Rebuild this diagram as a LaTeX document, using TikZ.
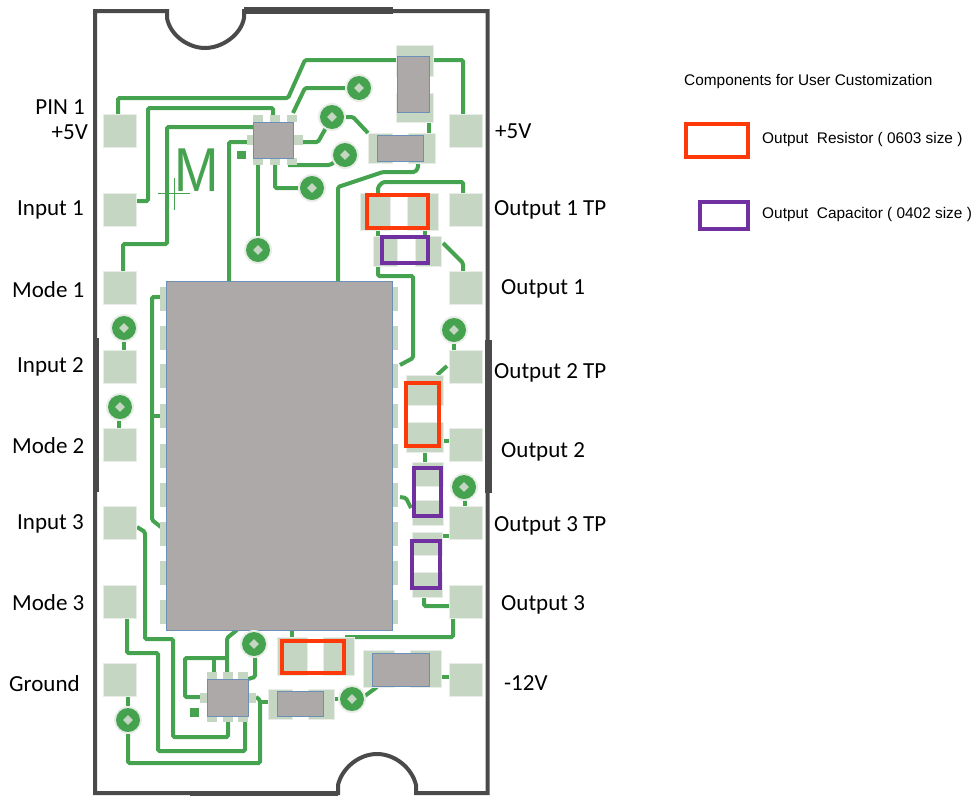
\documentclass[tikz,border=0pt]{standalone}
\usepackage{fontspec}
\setmainfont{Carlito}
\newfontfamily\legendfont{Liberation Sans}
\usetikzlibrary{shapes.geometric}
\definecolor{tracegreen}{HTML}{45A24E}
\definecolor{padgreen}{HTML}{C5D6C3}
\definecolor{padedge}{HTML}{E9EDE8}
\definecolor{chipgray}{HTML}{ADA9A8}
\definecolor{chipedge}{HTML}{6B8FB5}
\definecolor{boardgray}{HTML}{4A4A4A}
\definecolor{markred}{HTML}{FF3A0A}
\definecolor{markpurple}{HTML}{7030A0}
\tikzset{
  pcb_pad/.style = {rectangle, fill=padgreen, draw=padedge, line width=1pt,
    minimum width=33pt, minimum height=33pt, inner sep=0pt},
  pcb_land/.style = {fill=padgreen, draw=padedge, line width=.6pt},
  pcb_chip/.style = {fill=chipgray, draw=chipedge, line width=.7pt},
  pcb_trace/.style = {draw=tracegreen, line width=4pt, rounded corners=1.5pt},
  pcb_board/.style = {draw=boardgray, line width=4pt, line cap=butt},
  pcb_thick/.style = {draw=boardgray, line width=6.5pt},
  via_halo/.style = {circle, fill=padedge, minimum size=28pt, inner sep=0pt},
  via_ring/.style = {circle, fill=tracegreen, minimum size=24pt, inner sep=0pt},
  via_hole/.style = {diamond, fill=padgreen, minimum size=10pt, inner sep=0pt},
  mark_red/.style = {draw=markred, line width=3.4pt},
  mark_purple/.style = {draw=markpurple, line width=3.2pt},
  pin_label/.style = {font=\fontsize{23}{25}\selectfont, inner sep=0pt},
  legend_label/.style = {font=\legendfont\fontsize{15.4}{17}\selectfont, inner sep=0pt, anchor=west}
}
\begin{document}
\begin{tikzpicture}[x=1pt,y=-1pt]
\useasboundingbox (0,0) rectangle (975,796);
% traces, top half
\draw [pcb_trace] (118,115) -- (118,98) -- (288,98) -- (305,60) -- (397,60);
\draw [pcb_trace] (429,60) -- (463,60) -- (463,115);
\draw [pcb_trace] (137,201) -- (148,201) -- (148,108) -- (273,108) -- (273,117);
\draw [pcb_trace] (123,272) -- (123,244) -- (167,244) -- (167,127) -- (253,127);
\draw [pcb_trace] (229,281) -- (229,142) -- (250,142);
\draw [pcb_trace] (258,165) -- (258,250);
\draw [pcb_trace] (275,165) -- (275,188) -- (312,188);
\draw [pcb_trace] (288,165) -- (330,165) -- (345,155);
\draw [pcb_trace] (303,142) -- (318,142) -- (332,117);
\draw [pcb_trace] (293,113) -- (305,88) -- (359,88);
\draw [pcb_trace] (332,117) -- (353,117) -- (368,133);
\draw [pcb_trace] (429,122) -- (429,133);
\draw [pcb_trace] (338,281) -- (338,187) -- (383,172) -- (415,172) -- (418,168) -- (418,163);
\draw [pcb_trace] (378,193) -- (378,187) -- (383,182) -- (463,182) -- (463,194);
\draw [pcb_trace] (378,230) -- (378,237);
\draw [pcb_trace] (425,230) -- (425,237);
\draw [pcb_trace] (443,243) -- (463,263) -- (463,272);
\draw [pcb_trace] (378,265) -- (378,276) -- (413,276) -- (413,358) -- (400,365);
\draw [pcb_trace] (437,375) -- (447,366);
\draw [pcb_trace] (443,441) -- (450,441);
\draw [pcb_trace] (425,452) -- (425,462);
\draw [pcb_trace] (400,497) -- (406,498) -- (411,508);
\draw [pcb_trace] (443,536) -- (450,536);
\draw [pcb_trace] (424,597) -- (424,606) -- (449,606);
\draw [pcb_trace] (454,342) -- (454,351);
\draw [pcb_trace] (465,498) -- (465,507);
% traces, left side
\draw [pcb_trace] (124,340) -- (124,351);
\draw [pcb_trace] (119,420) -- (119,429);
\draw [pcb_trace] (161,297) -- (152,297) -- (152,520) -- (161,527);
\draw [pcb_trace] (152,416) -- (161,416);
\draw [pcb_trace] (137,527) -- (145,532) -- (145,639) -- (173,639) -- (173,737) -- (228,737) -- (228,722);
\draw [pcb_trace] (127,618) -- (127,653) -- (158,653) -- (158,751) -- (245,751) -- (245,722);
% traces, bottom
\draw [pcb_trace] (128,696) -- (128,708);
\draw [pcb_trace] (128,730) -- (128,763) -- (260,763) -- (260,700) -- (256,697);
\draw [pcb_trace] (260,702) -- (268,702);
\draw [pcb_trace] (237,630) -- (227,638) -- (227,672);
\draw [pcb_trace] (227,658) -- (185,658) -- (185,697) -- (200,697);
\draw [pcb_trace] (214,658) -- (214,672);
\draw [pcb_trace] (255,655) -- (255,677) -- (248,679);
\draw [pcb_trace] (292,630) -- (292,637);
\draw [pcb_trace] (453,618) -- (453,637) -- (345,637);
\draw [pcb_trace] (441,677) -- (449,677);
\draw [pcb_trace] (362,698) -- (377,687);
\draw [pcb_trace] (334,699) -- (342,699);
% edge pads
\foreach \padname/\pady in {a/131,b/210,c/288,d/367,e/445,f/523,g/602,h/680} {
  \node [pcb_pad] (left_\padname) at (119.5,\pady) {};
  \node [pcb_pad] (right_\padname) at (466,\pady) {};
}
% pins of the large chip
\foreach \piny in {299,337.5,376,416,456,495,534,573,612} {
  \fill [padgreen] (160,\piny-12) rectangle (166,\piny+12);
  \fill [padgreen] (392,\piny-12) rectangle (398,\piny+12);
}
% lands of the passives
\foreach \xa/\ya/\xb/\yb in {396/45/433/76, 396/93/433/122, 368/133/392/163, 408/133/435/163,
  360/193/390/230, 407/193/438/230, 373/236/397/266, 415/236/441/266,
  406/375/443/405, 406/422/443/452, 412/462/443/486, 412/500/443/525,
  412/532/442/555, 412/572/442/597, 277/637/307/675, 323/637/354/675,
  363/650/394/687, 410/650/441/687, 268/689/292/719, 308/689/334/719} {
  \draw [pcb_land] (\xa,\ya) rectangle (\xb,\yb);
}
% pins of the two small chips
\foreach \pinx in {258,275,292} {
  \fill [padgreen] (\pinx-5,115) rectangle (\pinx+5,122);
  \fill [padgreen] (\pinx-5,158) rectangle (\pinx+5,165);
}
\fill [padgreen] (247,135) rectangle (253,145);
\fill [padgreen] (293,135) rectangle (303,145);
\foreach \pinx in {212,228,243} {
  \fill [padgreen] (\pinx-5,672) rectangle (\pinx+5,679);
  \fill [padgreen] (\pinx-5,716) rectangle (\pinx+5,722);
}
\fill [padgreen] (200,693) rectangle (207,703);
\fill [padgreen] (248,693) rectangle (256,703);
\fill [tracegreen] (237,151) rectangle (246,159);
\fill [tracegreen] (190,708) rectangle (199,717);
% chips
\draw [pcb_chip] (166,281) rectangle (392,630);
\draw [pcb_chip] (253,122) rectangle (293,158);
\draw [pcb_chip] (207,679) rectangle (248,716);
\draw [pcb_chip] (397,56) rectangle (429,112);
\draw [pcb_chip] (377,135) rectangle (423,161);
\draw [pcb_chip] (372,653) rectangle (429,686);
\draw [pcb_chip] (277,691) rectangle (323,716);
% vias
\foreach \vianame/\viax/\viay in {a/359/88,b/332/117,c/345/155,d/312/188,e/258/250,
  f/124/328,g/120/407,h/454/330,i/464/487,j/254/644,k/128/720,l/352/699} {
  \node [via_halo] (halo_\vianame) at (\viax,\viay) {};
  \node [via_ring] (via_\vianame) at (\viax,\viay) {};
  \node [via_hole] (hole_\vianame) at (\viax,\viay) {};
}
% silk mark
\node [inner sep=0pt, text=tracegreen] (silk_m) at (197,170.5)
  {\scalebox{.86}[1]{\legendfont\fontsize{62}{62}\selectfont M}};
\draw [tracegreen, line width=.7pt] (158,193) -- (190,193);
\draw [tracegreen, line width=.7pt] (174,178) -- (174,210);
% board outline
\draw [pcb_board] (95,11) -- (167,11) -- (167,18) .. controls (170,35) and (188,48) .. (205,48)
  .. controls (222,48) and (241,35) .. (244,18) -- (244,11) -- (487.5,11) -- (487.5,793) -- (416,793)
  -- (416,785) .. controls (412,768) and (395,754) .. (377,754) .. controls (359,754) and (342,768)
  .. (338,785) -- (338,793) -- (95,793) -- cycle;
\draw [boardgray, line width=7pt] (244,10) -- (393,10);
\draw [boardgray, line width=5pt] (190,793.5) -- (338,793.5);
\draw [pcb_thick] (96,338) -- (96,492);
\draw [pcb_thick] (488.5,340) -- (488.5,493);
% customization marks
\draw [mark_red] (367,195) rectangle (428,228);
\draw [mark_purple] (382,237) rectangle (428,263);
\draw [mark_red] (406,383) rectangle (439,446);
\draw [mark_purple] (414,468) rectangle (441,516);
\draw [mark_purple] (412,541) rectangle (440,588);
\draw [mark_red] (282,641) rectangle (344,673);
% pin labels
\node [pin_label, anchor=east] (pin_one) at (85,107) {PIN 1};
\node [pin_label, anchor=east] (pin_five) at (88,132) {+5V};
\foreach \pinname/\pintext/\pinx/\piny in {ia/Input 1/17/210, ma/Mode 1/12/290, ib/Input 2/17/367,
  mb/Mode 2/12/446, ic/Input 3/17/524, mc/Mode 3/12/603, gnd/Ground/9/684,
  pfive/+5V/495/131, oat/Output 1 TP/494/210, oa/Output 1/501/289, obt/Output 2 TP/494/373,
  ob/Output 2/501/452, oct/Output 3 TP/494/526, oc/Output 3/501/605, mtw/-12V/504/683} {
  \node [pin_label, anchor=west] (label_\pinname) at (\pinx,\piny) {\pintext};
}
% legend
\node [legend_label] (legend_title) at (684,82) {Components for User Customization};
\draw [mark_red] (686,124) rectangle (748,157);
\node [legend_label] (legend_res) at (762,140) {Output~ Resistor ( 0603 size )};
\draw [mark_purple] (700,202) rectangle (748,229);
\node [legend_label] (legend_cap) at (762,215) {Output~ Capacitor ( 0402 size )};
\end{tikzpicture}
\end{document}
